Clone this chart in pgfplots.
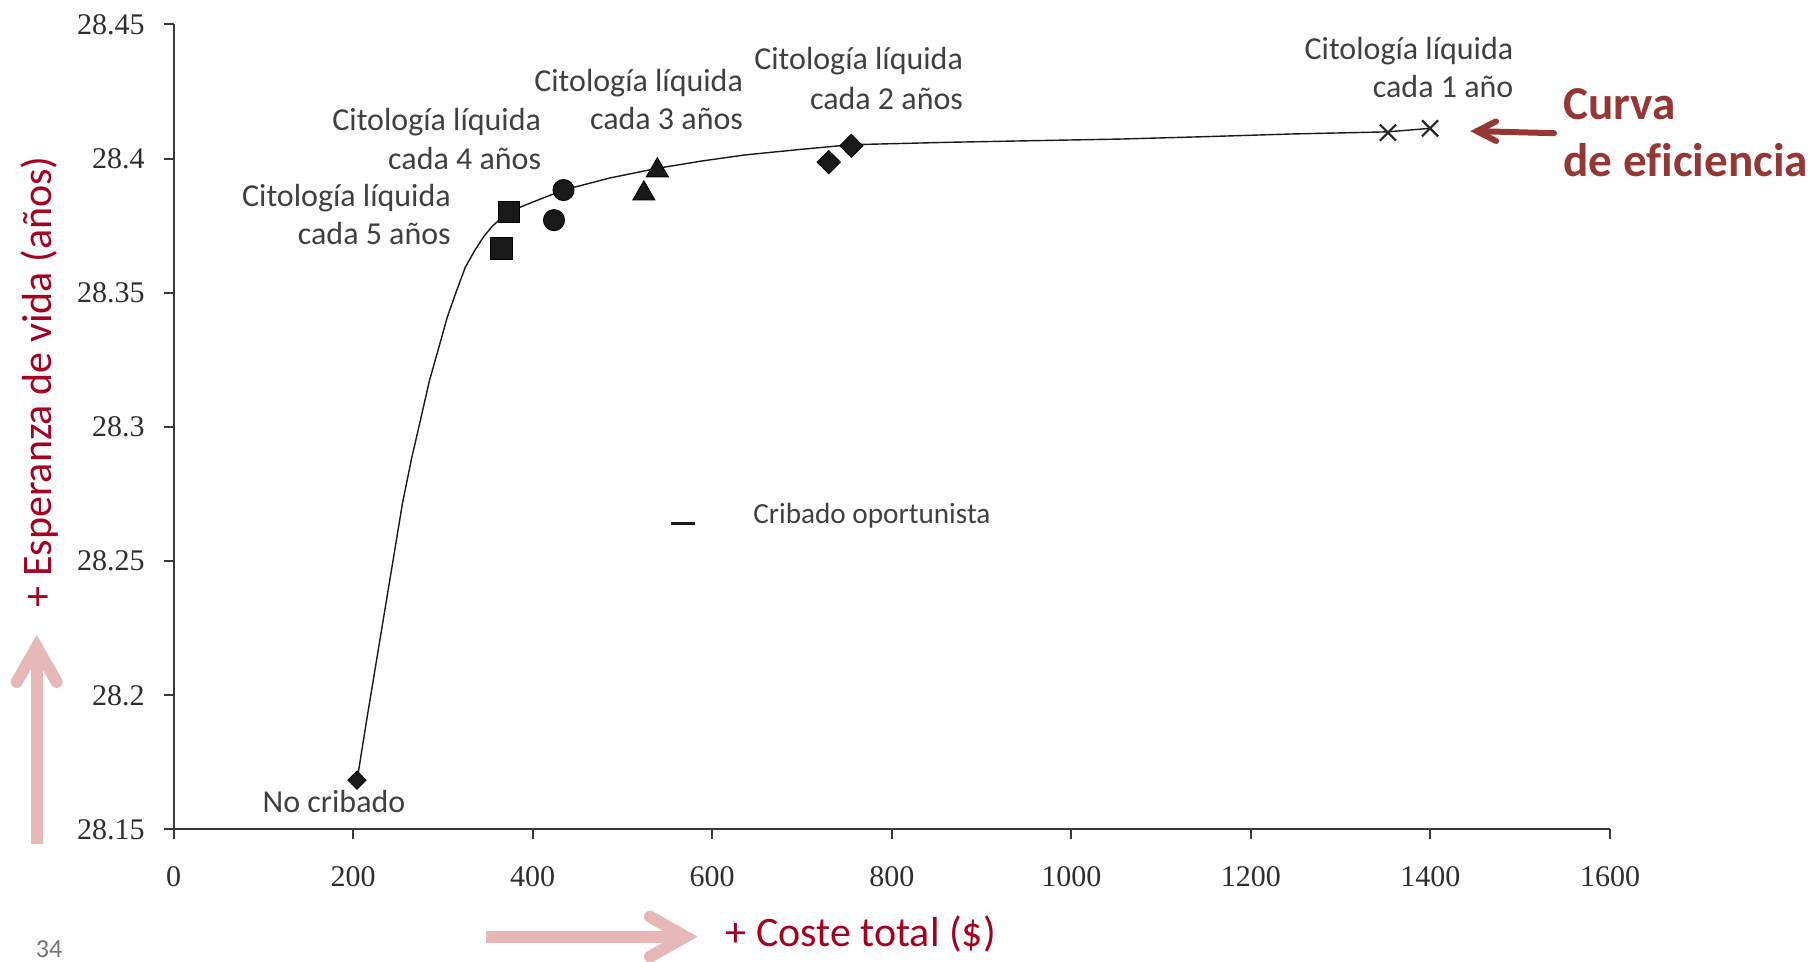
\documentclass[border=0pt]{standalone}
\usepackage{fontspec}
\setmainfont[Ligatures=NoCommon]{Carlito}
\newfontfamily\tickfont{Liberation Serif}
\usepackage{pgfplots}
\pgfplotsset{compat=1.18}
\definecolor{axred}{HTML}{A50021}
\definecolor{curvred}{HTML}{953735}
\definecolor{pinkarr}{HTML}{E6B9B8}
\definecolor{txtgray}{HTML}{404040}
\definecolor{axisgray}{HTML}{3A3A3A}
\definecolor{ticktxt}{HTML}{2E2E2E}
\begin{document}
\begin{tikzpicture}
\useasboundingbox (0,0) rectangle (907pt,481pt);
\begin{axis}[
  at={(86.75pt,66.25pt)}, anchor=south west,
  scale only axis, width=718.25pt, height=402.5pt,
  xmin=0, xmax=1600, ymin=28.15, ymax=28.45,
  axis lines*=left,
  axis line style={axisgray, line width=1pt},
  xtick={0,200,...,1600},
  ytick={28.15,28.2,28.25,28.3,28.35,28.4,28.45},
  scaled x ticks=false, scaled y ticks=false,
  tick align=outside, major tick length=5pt,
  tick style={axisgray, line width=1pt},
  /pgf/number format/assume math mode=true,
  /pgf/number format/1000 sep={},
  tick label style={font=\tickfont\fontsize{15}{15}\selectfont, text=ticktxt, inner sep=0pt},
  xticklabel style={anchor=north, yshift=-13.5pt},
  yticklabel style={anchor=east, xshift=-9.2pt,
    /pgf/number format/.cd, fixed, precision=2},
  clip=false,
]
% efficiency curve
\addplot[line width=0.7pt, color=black!90, no marks] coordinates {
(204.5,28.1684) (215,28.1905) (225,28.2107) (235,28.231) (245,28.2512)
(255,28.2715) (265,28.288) (275,28.3025) (285,28.3172) (295,28.329)
(305,28.341) (315,28.3505) (325,28.3595) (335,28.3655) (345,28.3707)
(355,28.3748) (365,28.3778) (373.5,28.3802) (400,28.3838) (434.4,28.3883)
(486,28.3928) (538.9,28.3964) (590,28.3992) (636.9,28.4014) (700,28.4035)
(755,28.4052) (864,28.4061) (958,28.4067) (1054,28.4073) (1150,28.4082)
(1246,28.4092) (1341,28.4099) (1352.7,28.41) (1399.6,28.4113)
};
% No cribado
\addplot[only marks, mark=square*, mark size=3.25pt, mark options={rotate=45, draw=none, fill=black!90}] coordinates {(204.4,28.1684)};
% 5 years
\addplot[only marks, mark=square*, mark size=5.4pt, mark options={draw=none, fill=black!90}] coordinates {(373.5,28.3802) (365.3,28.3666)};
% 4 years
\addplot[only marks, mark=*, mark size=5.3pt, mark options={draw=none, fill=black!90}] coordinates {(434.4,28.3883) (423.8,28.3771)};
% 3 years
\addplot[only marks, mark=triangle*, mark size=6.4pt, mark options={draw=none, fill=black!90}] coordinates {(538.9,28.3956) (523.9,28.387)};
% 2 years
\addplot[only marks, mark=square*, mark size=4.1pt, mark options={rotate=45, draw=none, fill=black!90}] coordinates {(755,28.4048) (729.8,28.3987)};
% 1 year
\addplot[only marks, mark=x, mark size=5.7pt, mark options={line width=1.1pt, draw=black!85}] coordinates {(1352.7,28.4097) (1399.6,28.4113)};
% Cribado oportunista
\addplot[only marks, mark=-, mark size=6pt, mark options={line width=1.6pt, draw=black!90}] coordinates {(567.3,28.2641)};
\end{axis}

% annotations
\begin{scope}[every node/.style={inner sep=0pt, text=txtgray, font=\fontsize{16}{19}\selectfont}]
\node[anchor=base east] at (225.6pt,377.65pt) {Citología líquida};
\node[anchor=base east] at (225.6pt,358.5pt) {cada 5 años};
\node[anchor=base east] at (270.75pt,415.85pt) {Citología líquida};
\node[anchor=base east] at (270.75pt,396.15pt) {cada 4 años};
\node[anchor=base east] at (371.7pt,435.15pt) {Citología líquida};
\node[anchor=base east] at (371.7pt,416pt) {cada 3 años};
\node[anchor=base east] at (481.7pt,446pt) {Citología líquida};
\node[anchor=base east] at (481.7pt,426.25pt) {cada 2 años};
\node[anchor=base east] at (756.85pt,451pt) {Citología líquida};
\node[anchor=base east] at (756.85pt,432.15pt) {cada 1 año};
\node[anchor=base] at (167pt,74.65pt) {No cribado};
\node[anchor=base west, font=\fontsize{14.6}{17}\selectfont] at (376.5pt,219pt) {Cribado oportunista};
\end{scope}

% Curva de eficiencia
\node[anchor=base west, inner sep=0pt, text=curvred, font=\bfseries\fontsize{23.6}{28}\selectfont] at (781.5pt,421pt) {Curva};
\node[anchor=base west, inner sep=0pt, text=curvred, font=\bfseries\fontsize{23.6}{28}\selectfont] at (781.5pt,392.65pt) {de eficiencia};
\draw[curvred, line width=3pt, line cap=round] (777pt,414.4pt) -- (739pt,415.4pt);
\draw[curvred, line width=3pt, line cap=round, line join=miter] (748pt,420.3pt) -- (738.4pt,415.4pt) -- (748pt,410.5pt);

% axis titles
\node[anchor=base, rotate=90, inner sep=0pt, text=axred, font=\fontsize{21}{24}\selectfont] at (25.85pt,290.1pt) {+ Esperanza de vida (años)};
\node[anchor=base, inner sep=0pt, text=axred, font=\fontsize{21}{24}\selectfont] at (430.4pt,7.65pt) {+ Coste total (\$)};

% pink arrows
\draw[pinkarr, line width=6pt] (18.35pt,59pt) -- (18.35pt,156pt);
\draw[pinkarr, line width=6pt, line cap=round, line join=miter] (8.35pt,140pt) -- (18.35pt,157.5pt) -- (28.35pt,140pt);
\draw[pinkarr, line width=6pt] (242.9pt,12.65pt) -- (341pt,12.65pt);
\draw[pinkarr, line width=6pt, line cap=round, line join=miter] (325pt,22.65pt) -- (342.7pt,12.65pt) -- (325pt,2.65pt);

% page number
\node[anchor=south, inner sep=0pt, text=black!55, font=\fontsize{13}{15}\selectfont] at (24.5pt,2pt) {34};
\end{tikzpicture}
\end{document}
